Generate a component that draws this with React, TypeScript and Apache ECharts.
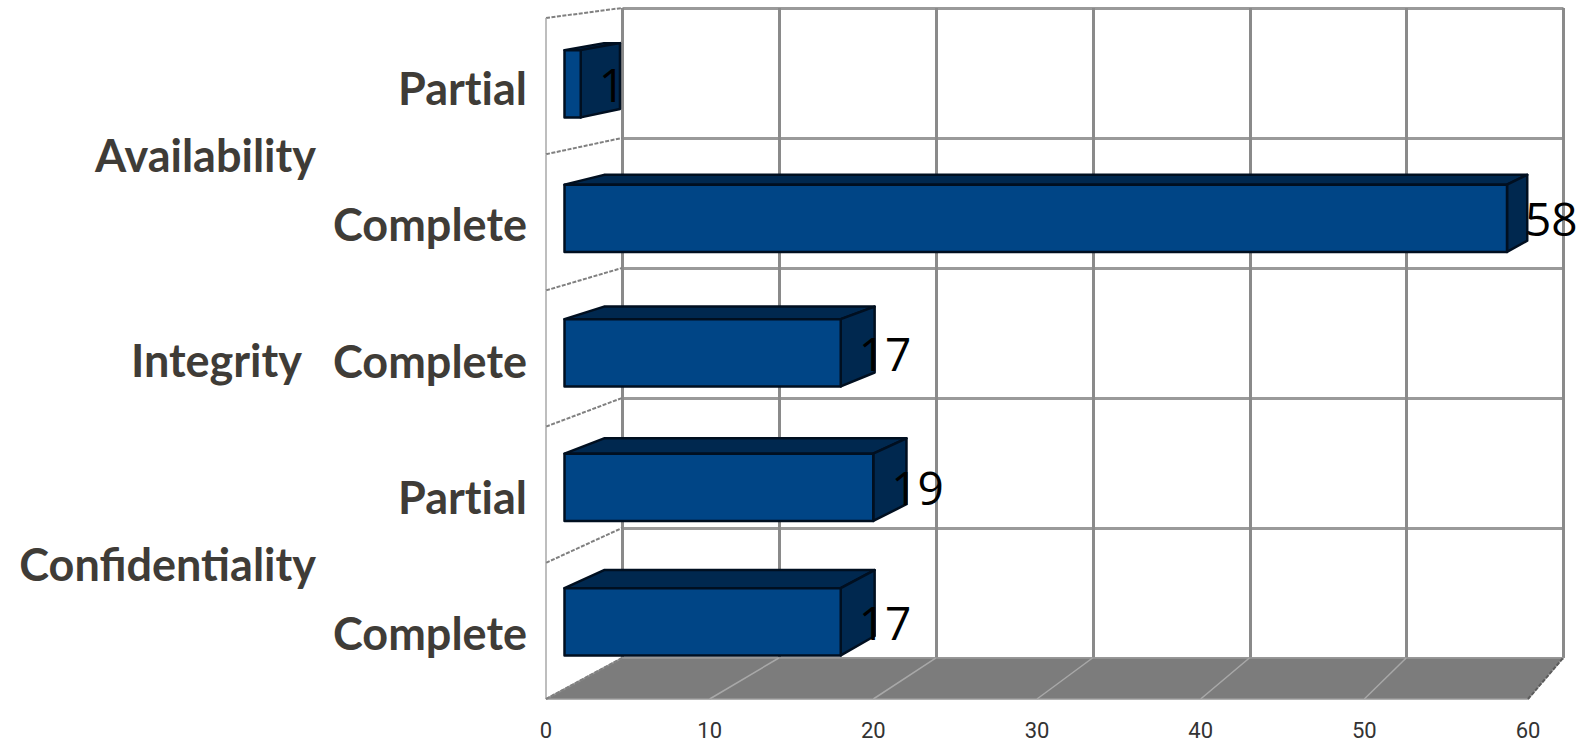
import React, { useEffect, useRef } from "react";
import * as echarts from "echarts";

// Rows listed top to bottom.
const rowLabels = ["Partial", "Complete", "Complete", "Partial", "Complete"];
const rowValues = [1, 58, 17, 19, 17];
const groupLabels = ["Availability", "Integrity", "Confidentiality"];
const groupCentres = [1, 2.5, 4];
const groupSpans = [2, 1, 2];
const xTicks = [0, 10, 20, 30, 40, 50, 60];
const wallRows = [0, 1, 2, 3, 4, 5];

const FRONT = "#004586";
const SHADE = "#00284f";
const EDGE = "#000f20";
const TEXT = "#3f3c37";

// One-point perspective used for the depth of the bars.
const barBack = (x: number, y: number) => {
  const k = 0.0205;
  return [x + k * (2494 - x), y + k * (-291 - y)];
};
// Same idea for the full depth of the walls and floor.
const wallBack = (x: number, y: number) => [x + 0.0417 * (2368 - x), y + 0.0455 * (-202 - y)];

// Coarse stepped look of the receding edges.
const steppedEdge = { stroke: "#808080", lineWidth: 2, lineDash: [4, 1.5] };

const renderFloor = (_p: any, api: any) => {
  const a = api.coord([0, 5]);
  const b = api.coord([60, 5]);
  const c = wallBack(b[0], b[1]);
  const points = [a, b, c, wallBack(a[0], a[1])];
  return {
    type: "group",
    children: [
      {
        type: "polygon",
        shape: { points },
        style: { fill: "#7c7c7c", stroke: "#989898", lineWidth: 1.5 },
      },
      {
        type: "line",
        shape: { x1: b[0], y1: b[1], x2: c[0], y2: c[1] },
        style: { ...steppedEdge, stroke: "#5c5c5c" },
      },
    ],
  };
};

const renderFloorLine = (_p: any, api: any) => {
  const a = api.coord([api.value(0), 5]);
  const b = wallBack(a[0], a[1]);
  return {
    type: "line",
    shape: { x1: a[0], y1: a[1], x2: b[0], y2: b[1] },
    style: { stroke: "#a8a8a8", lineWidth: 1.5 },
  };
};

const renderWall = (_p: any, api: any) => {
  const row = api.value(1);
  const a = api.coord([0, row]);
  const b = wallBack(a[0], a[1]);
  const children: any[] = [
    {
      type: "line",
      shape: { x1: a[0], y1: a[1], x2: b[0], y2: b[1] },
      style: steppedEdge,
    },
  ];
  if (row < 5) {
    const c = api.coord([0, row + 1]);
    children.push({
      type: "line",
      shape: { x1: a[0], y1: a[1], x2: c[0], y2: c[1] },
      style: { stroke: "#a8a8a8", lineWidth: 1.5 },
    });
  }
  return { type: "group", children };
};

const renderBar = (_p: any, api: any) => {
  const base = api.coord([0, api.value(1)]);
  const end = api.coord([api.value(0), api.value(1)]);
  const h = api.size([0, 1])[1] * 0.5;
  const x0 = base[0];
  const x1 = end[0];
  const y0 = base[1] - h / 2;
  const y1 = base[1] + h / 2;
  const edge = { stroke: EDGE, lineWidth: 2.5, lineJoin: "round" };
  return {
    type: "group",
    children: [
      {
        type: "polygon",
        shape: { points: [[x0, y0], [x1, y0], barBack(x1, y0), barBack(x0, y0)] },
        style: { fill: SHADE, ...edge },
      },
      {
        type: "polygon",
        shape: { points: [[x1, y0], barBack(x1, y0), barBack(x1, y1), [x1, y1]] },
        style: { fill: SHADE, ...edge },
      },
      {
        type: "rect",
        shape: { x: x0, y: y0, width: x1 - x0, height: y1 - y0 },
        style: { fill: FRONT, ...edge },
      },
      {
        type: "text",
        x: x1 + 18,
        y: base[1],
        style: {
          text: String(api.value(0)),
          fill: "#000000",
          font: '46px "Open Sans", sans-serif',
          align: "left",
          verticalAlign: "middle",
          textAlign: "left",
          textVerticalAlign: "middle",
        },
      },
    ],
  };
};

const renderGroupLabel = (params: any, api: any) => {
  const p = api.coord([0, api.value(1)]);
  const single = groupSpans[params.dataIndex] === 1;
  return {
    type: "text",
    x: single ? 302 : 316,
    y: p[1] + 1,
    style: {
      text: groupLabels[params.dataIndex],
      fill: TEXT,
      font: "bold 45px Lato, sans-serif",
      align: "right",
      verticalAlign: "middle",
      textAlign: "right",
      textVerticalAlign: "middle",
    },
  };
};

const hiddenAxis = { show: false };

export default function App() {
  const ref = useRef<HTMLDivElement>(null);
  useEffect(() => {
    const chart = echarts.init(ref.current!, undefined, { renderer: "svg" });
    chart.setOption({
      animation: false,
      backgroundColor: "#ffffff",
      grid: [
        { left: 546, top: 18, width: 982, height: 681 },
        { left: 622.5, top: 8, width: 941, height: 650 },
        { left: 564.5, top: 16.5, width: 975, height: 672.5 },
        { left: 546, top: 20, width: 982, height: 681 },
      ],
      xAxis: [
        {
          gridIndex: 0,
          type: "value",
          min: 0,
          max: 60,
          interval: 10,
          axisLine: { show: false },
          axisTick: { show: false },
          splitLine: { show: false },
          axisLabel: {
            margin: 21,
            fontSize: 22,
            lineHeight: 20,
            color: "#333333",
            fontFamily: "Roboto, sans-serif",
          },
        },
        {
          gridIndex: 1,
          type: "value",
          min: 0,
          max: 60,
          interval: 10,
          axisLine: { show: false },
          axisTick: { show: false },
          axisLabel: { show: false },
          splitLine: { show: true, lineStyle: { color: "#8a8a8a", width: 3 } },
        },
        { gridIndex: 2, type: "value", min: 0, max: 60, ...hiddenAxis },
        { gridIndex: 3, type: "value", min: 0, max: 60, ...hiddenAxis },
      ],
      yAxis: [
        {
          gridIndex: 3,
          type: "category",
          inverse: true,
          data: rowLabels,
          axisLine: { show: false },
          axisTick: { show: false },
          splitLine: { show: false },
          axisLabel: {
            margin: 19,
            interval: 0,
            fontSize: 45,
            fontWeight: "bold",
            color: TEXT,
            fontFamily: "Lato, sans-serif",
          },
        },
        {
          gridIndex: 1,
          type: "category",
          inverse: true,
          data: rowLabels,
          axisLine: { show: false },
          axisTick: { show: false },
          axisLabel: { show: false },
          splitLine: { show: true, interval: 0, lineStyle: { color: "#9a9a9a", width: 3 } },
        },
        {
          gridIndex: 2,
          type: "category",
          inverse: true,
          data: rowLabels,
          ...hiddenAxis,
        },
        { gridIndex: 0, type: "value", inverse: true, min: 0, max: 5, ...hiddenAxis },
      ],
      series: [
        {
          type: "custom",
          xAxisIndex: 0,
          yAxisIndex: 3,
          z: 1,
          silent: true,
          data: [[0, 5]],
          renderItem: renderFloor,
        },
        {
          type: "custom",
          xAxisIndex: 0,
          yAxisIndex: 3,
          z: 2,
          silent: true,
          data: xTicks.slice(1, -1).map((t) => [t, 5]),
          renderItem: renderFloorLine,
        },
        {
          type: "custom",
          xAxisIndex: 0,
          yAxisIndex: 3,
          z: 2,
          silent: true,
          data: wallRows.map((r) => [0, r]),
          renderItem: renderWall,
        },
        {
          type: "custom",
          xAxisIndex: 2,
          yAxisIndex: 2,
          z: 5,
          silent: true,
          data: rowValues.map((v, i) => [v, i]),
          encode: { x: 0, y: 1 },
          renderItem: renderBar,
        },
        {
          type: "custom",
          xAxisIndex: 0,
          yAxisIndex: 3,
          z: 6,
          silent: true,
          data: groupCentres.map((c) => [0, c]),
          renderItem: renderGroupLabel,
        },
      ],
    });
    return () => chart.dispose();
  }, []);
  return (
    <div
      ref={ref}
      style={{
        position: "absolute",
        left: 0,
        top: 0,
        width: 1583,
        height: 743,
        fontVariantLigatures: "none",
      }}
    />
  );
}
